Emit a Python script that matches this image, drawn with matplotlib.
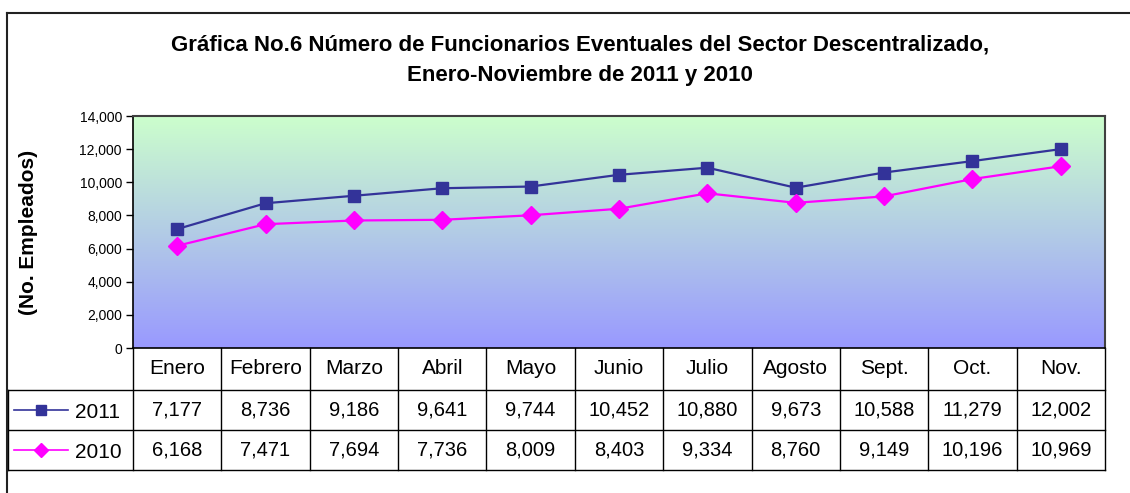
import numpy as np
import matplotlib
import matplotlib.pyplot as plt
from matplotlib.colors import LinearSegmentedColormap
from matplotlib.lines import Line2D

plt.rcParams['font.family'] = ['Liberation Sans', 'DejaVu Sans']

months = ['Enero', 'Febrero', 'Marzo', 'Abril', 'Mayo', 'Junio', 'Julio',
          'Agosto', 'Sept.', 'Oct.', 'Nov.']
v2011 = [7177, 8736, 9186, 9641, 9744, 10452, 10880, 9673, 10588, 11279, 12002]
v2010 = [6168, 7471, 7694, 7736, 8009, 8403, 9334, 8760, 9149, 10196, 10969]
series = [('2011', v2011, '#333399', 's'), ('2010', v2010, '#FF00FF', 'D')]

W, H = 1130, 493
fig = plt.figure(figsize=(W / 100, H / 100), dpi=100)
ax = fig.add_axes([133 / W, 1 - 348 / H, 972 / W, 232 / H])

x = np.arange(len(months))
ax.set_xlim(-0.5, len(months) - 0.5)
ax.set_ylim(0, 14000)

# gradient background (green top -> lavender bottom)
cmap = LinearSegmentedColormap.from_list('bg', ['#9999FF', '#CCFFCC'])
grad = np.linspace(0, 1, 256).reshape(-1, 1)
ax.imshow(grad, cmap=cmap, origin='lower', aspect='auto',
          extent=[-0.5, len(months) - 0.5, 0, 14000], zorder=0)

for name, vals, col, mk in series:
    ax.plot(x, vals, color=col, lw=1.6, marker=mk, ms=8.5 if mk == 's' else 8.8,
            markeredgecolor=col, zorder=3)

ax.set_yticks(np.arange(0, 14001, 2000))
ax.yaxis.set_major_formatter(matplotlib.ticker.StrMethodFormatter('{x:,.0f}'))
ax.tick_params(axis='y', direction='out', length=5, width=1, labelsize=10, pad=3)
ax.set_xticks([])
for s in ['left', 'bottom']:
    ax.spines[s].set_color('black')
    ax.spines[s].set_linewidth(1.2)
for s in ['top', 'right']:
    ax.spines[s].set_color('#404040')
    ax.spines[s].set_linewidth(1.5)

ax.set_ylabel('(No. Empleados)', fontsize=15, fontweight='bold')
ax.yaxis.set_label_coords(-95 / 972, 0.5)

# data table below the plot
tr = ax.get_xaxis_transform()
px = 232.0  # axes height in pixels
rows_y = [0, -42 / px, -82 / px, -122 / px]
left = -0.5 - 125 / (972 / len(months))
right = len(months) - 0.5
lk = dict(color='black', lw=1, transform=tr, clip_on=False)
for yy in rows_y[1:]:
    ax.add_line(Line2D([left, right], [yy, yy], **lk))
ax.add_line(Line2D([left, left], [rows_y[1], rows_y[3]], **lk))
for i in range(len(months) + 1):
    ax.add_line(Line2D([i - 0.5, i - 0.5], [rows_y[0], rows_y[3]], **lk))

for i, m in enumerate(months):
    ax.text(i, (rows_y[0] + rows_y[1]) / 2, m, transform=tr, ha='center',
            va='center', fontsize=15)
for r, (name, vals, col, mk) in enumerate(series):
    yc = (rows_y[r + 1] + rows_y[r + 2]) / 2
    for i, v in enumerate(vals):
        ax.text(i, yc, f'{v:,}', transform=tr, ha='center', va='center', fontsize=14.5)
    # legend key
    x0 = left + 6 / 88.36
    x1 = left + 60 / 88.36
    ax.add_line(Line2D([x0, x1], [yc, yc], color=col, lw=1.2, transform=tr, clip_on=False))
    ax.add_line(Line2D([(x0 + x1) / 2], [yc], color=col, marker=mk,
                       ms=7 if mk == 's' else 7.5, transform=tr, clip_on=False))
    ax.text(left + 67 / 88.36, yc - 0.01, name, transform=tr, ha='left',
            va='center', fontsize=15)

# title
fig.text(580 / W, 1 - 45 / H,
         'Gráfica No.6 Número de Funcionarios Eventuales del Sector Descentralizado,',
         ha='center', va='center', fontsize=16, fontweight='bold')
fig.text(580 / W, 1 - 75 / H, 'Enero-Noviembre de 2011 y 2010',
         ha='center', va='center', fontsize=16, fontweight='bold')

# outer chart frame (only top and left visible)
fig.add_artist(Line2D([7 / W, 7 / W], [0, 1 - 13 / H], color='#222222', lw=1.5,
                      transform=fig.transFigure))
fig.add_artist(Line2D([7 / W, 1], [1 - 13 / H, 1 - 13 / H], color='#222222', lw=1.5,
                      transform=fig.transFigure))

fig.savefig('out.png', dpi=100)
